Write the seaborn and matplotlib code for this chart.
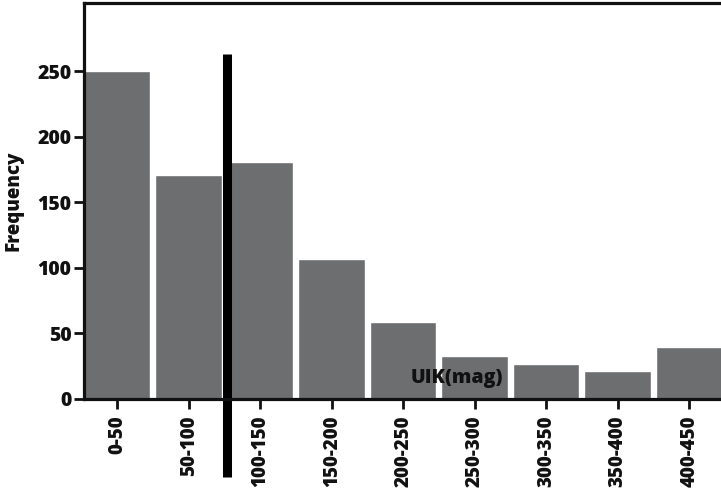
import matplotlib
matplotlib.use('Agg')
import matplotlib.pyplot as plt
import seaborn as sns
import pandas as pd

categories = ['0-50', '50-100', '100-150', '150-200', '200-250',
              '250-300', '300-350', '350-400', '400-450']
frequency = [250, 171, 181, 107, 59, 33, 27, 21, 40]

# thick cut-off marker drawn between the 2nd and 3rd bins
cutoff_pos = 1.54
cutoff_top = 263


def main():
    sns.set_style('white')
    plt.rcParams['font.family'] = ['Open Sans', 'DejaVu Sans']

    df = pd.DataFrame({'bin': categories, 'freq': frequency})

    fig = plt.figure(figsize=(7.21, 5.0), dpi=100)
    ax = fig.add_axes([84 / 721, 101 / 500, 1 - 84 / 721, 396 / 500])

    sns.barplot(data=df, x='bin', y='freq', color='#6d6e70', saturation=1,
                width=0.93, ax=ax)

    ax.set_xlim(-0.465, 8.445)
    ax.set_ylim(0, 302)
    ax.set_yticks([0, 50, 100, 150, 200, 250])

    for side in ['left', 'bottom', 'top']:
        ax.spines[side].set_visible(True)
        ax.spines[side].set_linewidth(2.3)
        ax.spines[side].set_color('#111111')
    ax.spines['right'].set_visible(False)

    ax.tick_params(axis='both', direction='out', length=7, width=2,
                   color='#111111', left=True, bottom=True)
    ax.tick_params(axis='y', labelsize=14, pad=2)
    ax.tick_params(axis='x', labelsize=13.5, pad=5, labelrotation=90)
    for lab in ax.get_xticklabels() + ax.get_yticklabels():
        lab.set_fontweight('heavy')
        lab.set_color('#111111')
    for lab in ax.get_xticklabels():
        lab.set_va('top')

    ax.axvline(cutoff_pos, ymin=-0.197, ymax=cutoff_top / 302,
               color='black', lw=6.5, clip_on=False, solid_capstyle='butt')

    ax.set_ylabel('Frequency', fontsize=13.5, fontweight='heavy',
                  color='#111111', labelpad=10)
    ax.set_xlabel('')
    ax.text(0.585, 0.053, 'UIK(mag)', transform=ax.transAxes, fontsize=14,
            fontweight='heavy', color='#111111', ha='center', va='center',
            zorder=5)

    fig.savefig('out.png', dpi=100)


if __name__ == '__main__':
    main()
